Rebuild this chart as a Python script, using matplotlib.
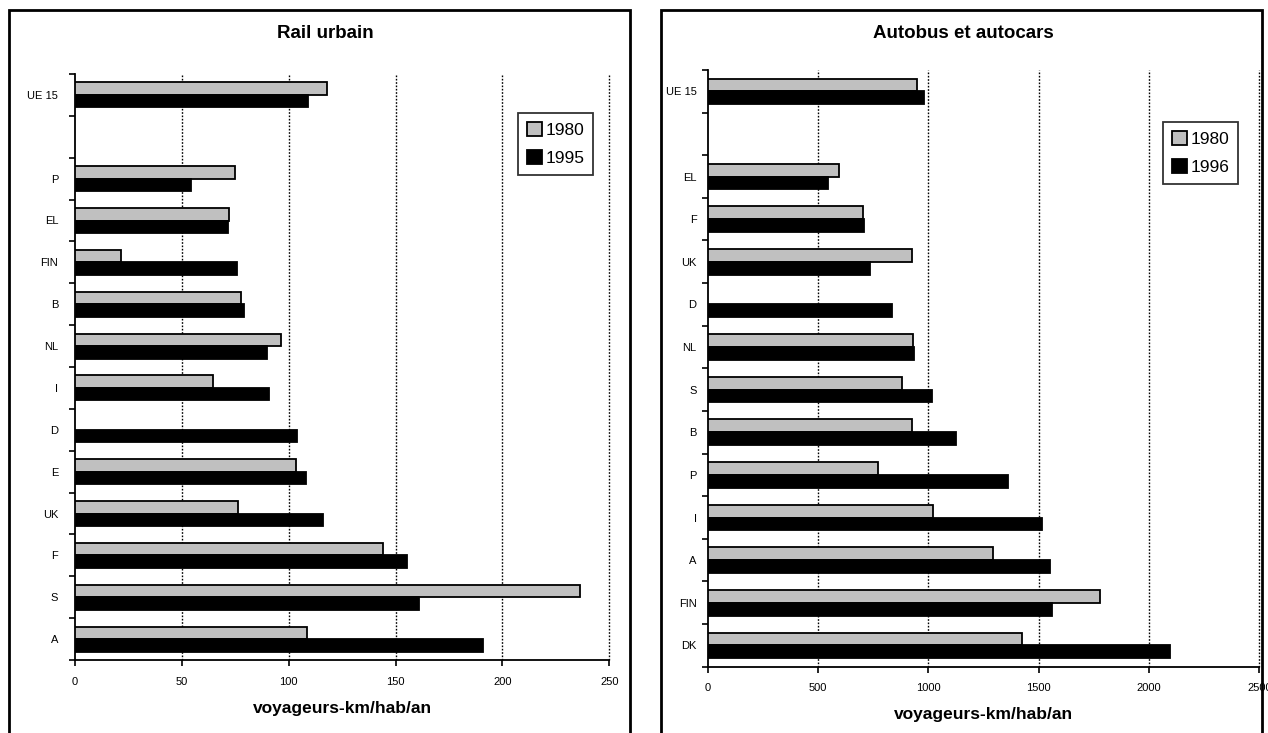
import numpy as np
import matplotlib
matplotlib.use('Agg')
import matplotlib.pyplot as plt
from matplotlib.patches import Rectangle
from matplotlib.ticker import FixedLocator, NullFormatter

plt.rcParams['font.family'] = ['Liberation Sans', 'DejaVu Sans']

# Rail urbain (top to bottom, '' = empty slot)
rail_cats = ['UE 15', '', 'P', 'EL', 'FIN', 'B', 'NL', 'I', 'D', 'E', 'UK', 'F', 'S', 'A']
rail_1980 = [118, np.nan, 75, 72, 21.5, 77.5, 96.5, 64.5, np.nan, 103.5, 76.5, 144, 236.5, 108.5]
rail_1995 = [109, np.nan, 54.5, 71.5, 76, 79, 90, 91, 104, 108, 116, 155.5, 161, 191]

# Autobus et autocars
bus_cats = ['UE 15', '', 'EL', 'F', 'UK', 'D', 'NL', 'S', 'B', 'P', 'I', 'A', 'FIN', 'DK']
bus_1980 = [950, np.nan, 597, 705, 925, np.nan, 932, 879, 925, 770, 1023, 1295, 1778, 1423]
bus_1996 = [980, np.nan, 545, 708, 736, 837, 935, 1018, 1126, 1363, 1517, 1552, 1562, 2096]

W, H = 1268, 733
fig = plt.figure(figsize=(W / 100, H / 100), dpi=100)


def px(x0, y0, x1, y1):
    # pixel box -> figure fraction [left, bottom, width, height]
    return [x0 / W, 1 - y1 / H, (x1 - x0) / W, (y1 - y0) / H]


def panel(rect, cats, v1, v2, lab2, xmax, xstep, title, title_x, leg_xy, ypad):
    ax = fig.add_axes(rect)
    n = len(cats)
    y = np.arange(n)
    ax.barh(y - 0.15, v1, height=0.3, color='#c0c0c0', edgecolor='black', linewidth=1.3, label='1980', zorder=3)
    ax.barh(y + 0.15, v2, height=0.3, color='black', edgecolor='black', linewidth=1.3, label=lab2, zorder=3)
    ax.set_ylim(n - 0.5, -0.5)
    ax.set_xlim(0, xmax)
    ax.set_xticks(np.arange(0, xmax + 1, xstep))
    ax.tick_params(axis='x', direction='out', length=4, width=1.2, labelsize=8, pad=8)
    # y ticks at slot boundaries, labels at centres
    ax.yaxis.set_major_locator(FixedLocator(np.arange(-0.5, n, 1)))
    ax.yaxis.set_major_formatter(NullFormatter())
    ax.set_yticks(y, minor=True)
    ax.set_yticklabels(cats, minor=True)
    ax.tick_params(axis='y', which='major', direction='out', length=4, width=1.2)
    ax.tick_params(axis='y', which='minor', length=0, labelsize=8, pad=ypad)
    for s in ['top', 'right']:
        ax.spines[s].set_visible(False)
    for s in ['left', 'bottom']:
        ax.spines[s].set_linewidth(1.3)
    for g in np.arange(xstep, xmax + 1, xstep):
        ax.axvline(g, color='black', linestyle=(0, (1.2, 1.2)), linewidth=1, zorder=1, clip_on=False)
    ax.set_xlabel('voyageurs-km/hab/an', fontsize=12.5, fontweight='bold', labelpad=10)
    leg = ax.legend(loc='upper left', bbox_to_anchor=(leg_xy[0] / W, 1 - leg_xy[1] / H),
                    bbox_transform=fig.transFigure, fontsize=12.5, frameon=True,
                    fancybox=False, edgecolor='black', handlelength=0.9, handleheight=0.9,
                    handletextpad=0.2, labelspacing=0.7, borderpad=0.5, borderaxespad=0)
    leg.get_frame().set_linewidth(1.3)
    fig.text(title_x / W, 1 - 33 / H, title, ha='center', va='center', fontsize=13.5, fontweight='bold')
    return ax


ax1 = panel(px(75, 74, 609.3, 660), rail_cats, rail_1980, rail_1995, '1995', 250, 50,
            'Rail urbain', 325, (518, 113), 12)
ax2 = panel(px(707.7, 70, 1259.3, 666.7), bus_cats, bus_1980, bus_1996, '1996', 2500, 500,
            'Autobus et autocars', 963, (1163, 122), 8)

# panel frames
for x0, x1 in [(9, 630), (661, 1262)]:
    fig.add_artist(Rectangle((x0 / W, -0.05), (x1 - x0) / W, 1.05 - 10 / H,
                             transform=fig.transFigure, fill=False, edgecolor='black', linewidth=2))

plt.savefig('out.png', dpi=100)
